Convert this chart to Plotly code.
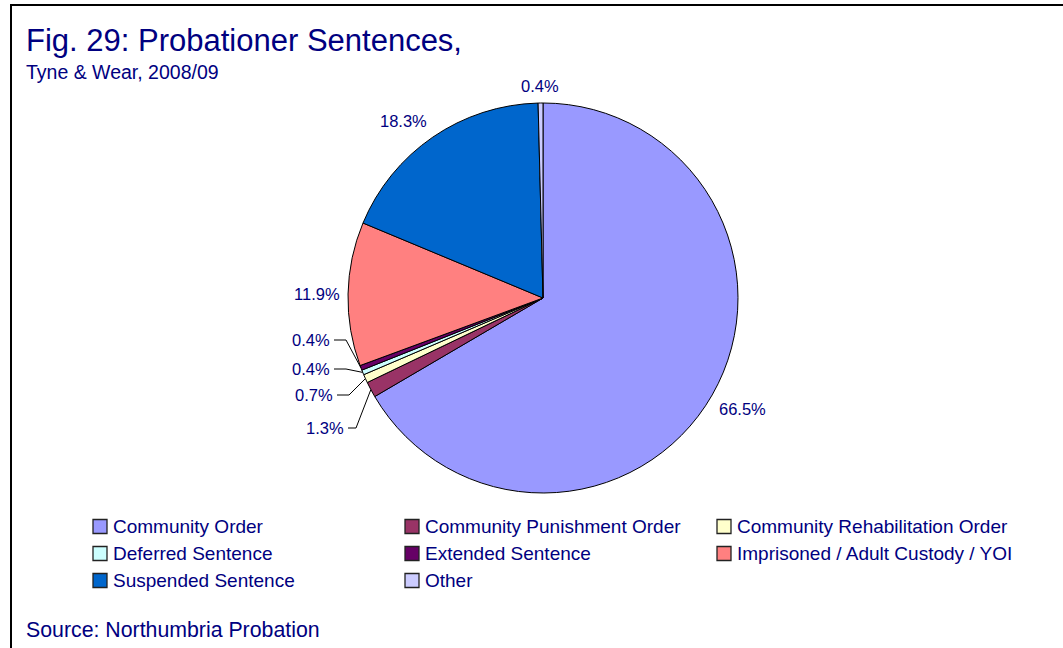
import math
import plotly.graph_objects as go

# ---------------- data ----------------
categories = [
    "Community Order",
    "Community Punishment Order",
    "Community Rehabilitation Order",
    "Deferred Sentence",
    "Extended Sentence",
    "Imprisoned / Adult Custody / YOI",
    "Suspended Sentence",
    "Other",
]
values = [66.5, 1.3, 0.7, 0.4, 0.4, 11.9, 18.3, 0.4]
colors = ["#9999FF", "#993366", "#FFFFCC", "#CCFFFF", "#660066", "#FF8080", "#0066CC", "#CCCCFF"]

title_text = "Fig. 29: Probationer Sentences,"
subtitle_text = "Tyne & Wear, 2008/09"
source_text = "Source: Northumbria Probation"

# ---------------- layout helpers ----------------
W, H = 1063, 648
CX, CY, R = 543, 298, 195
NAVY = "#000080"
FONT = "Arial, Liberation Sans, sans-serif"


def px(x):
    return x / W


def py(y):
    return 1 - y / H


# labels with leader lines (index -> right edge x, centre y in px)
leader_labels = {1: (346, 428), 2: (335, 395), 3: (332, 369), 4: (332, 340)}

# legend grid (3 columns)
LEG_COL_X = [93, 405, 717]
LEG_ROW_Y0, LEG_ROW_DY = 526.5, 27
LEG_SQ = 14

fig = go.Figure()
fig.add_trace(go.Pie(
    labels=categories,
    values=values,
    sort=False,
    direction="clockwise",
    rotation=0,
    marker=dict(colors=colors, line=dict(color="black", width=1)),
    textinfo="none",
    hoverinfo="label+percent",
    domain=dict(x=[px(CX - R), px(CX + R)], y=[py(CY + R), py(CY - R)]),
    showlegend=False,
))

annotations = []
shapes = []

total = sum(values)
cum = 0.0
for i, v in enumerate(values):
    mid = (cum + v / 2) / total * 2 * math.pi
    cum += v
    s, c = math.sin(mid), math.cos(mid)
    txt = f"{v:.1f}%"
    if i in leader_labels:
        xr, yl = leader_labels[i]
        ex, ey = CX + R * s, CY - R * c
        kx = xr + 14 if i != 1 else xr + 10
        shapes.append(dict(
            type="path", xref="paper", yref="paper",
            path=f"M {px(xr + 2)} {py(yl)} L {px(kx)} {py(yl)} L {px(ex)} {py(ey)}",
            line=dict(color="black", width=1),
        ))
        annotations.append(dict(
            x=px(xr), y=py(yl), xref="paper", yref="paper", text=txt,
            showarrow=False, xanchor="right", yanchor="middle",
            font=dict(family=FONT, size=16.5, color=NAVY),
        ))
    else:
        rl = R * 1.03
        ax, ay = CX + rl * s, CY - rl * c
        xa = "left" if s > 0.3 else ("right" if s < -0.3 else "center")
        ya = "bottom" if c > 0.3 else ("top" if c < -0.3 else "middle")
        annotations.append(dict(
            x=px(ax), y=py(ay), xref="paper", yref="paper", text=txt,
            showarrow=False, xanchor=xa, yanchor=ya,
            font=dict(family=FONT, size=16.5, color=NAVY),
        ))

# legend (drawn as squares + text in a 3-column grid)
for i, (name, col) in enumerate(zip(categories, colors)):
    r, k = divmod(i, 3)
    x0 = LEG_COL_X[k]
    yc = LEG_ROW_Y0 + r * LEG_ROW_DY
    shapes.append(dict(
        type="rect", xref="paper", yref="paper",
        x0=px(x0), x1=px(x0 + LEG_SQ),
        y0=py(yc - LEG_SQ / 2), y1=py(yc + LEG_SQ / 2),
        fillcolor=col, line=dict(color="#222222", width=1.3),
    ))
    annotations.append(dict(
        x=px(x0 + LEG_SQ + 4), y=py(yc), xref="paper", yref="paper", text=name,
        showarrow=False, xanchor="left", yanchor="middle",
        font=dict(family=FONT, size=19, color=NAVY),
    ))

annotations += [
    dict(x=px(24), y=py(41), xref="paper", yref="paper", text=title_text,
         showarrow=False, xanchor="left", yanchor="middle",
         font=dict(family=FONT, size=31, color=NAVY)),
    dict(x=px(24), y=py(72), xref="paper", yref="paper", text=subtitle_text,
         showarrow=False, xanchor="left", yanchor="middle",
         font=dict(family=FONT, size=19.5, color=NAVY)),
    dict(x=px(24), y=py(630), xref="paper", yref="paper", text=source_text,
         showarrow=False, xanchor="left", yanchor="middle",
         font=dict(family=FONT, size=21.3, color=NAVY)),
]

# outer frame (top and left edges visible)
shapes.append(dict(type="rect", xref="paper", yref="paper",
                   x0=px(11), y0=py(5), x1=1.05, y1=-0.05,
                   line=dict(color="black", width=2)))

fig.update_layout(
    width=W, height=H,
    margin=dict(l=0, r=0, t=0, b=0),
    paper_bgcolor="white",
    plot_bgcolor="white",
    annotations=annotations,
    shapes=shapes,
    showlegend=False,
)

fig.write_html("out.html", config={"displayModeBar": False},
               post_script="document.body.style.margin='0';")
